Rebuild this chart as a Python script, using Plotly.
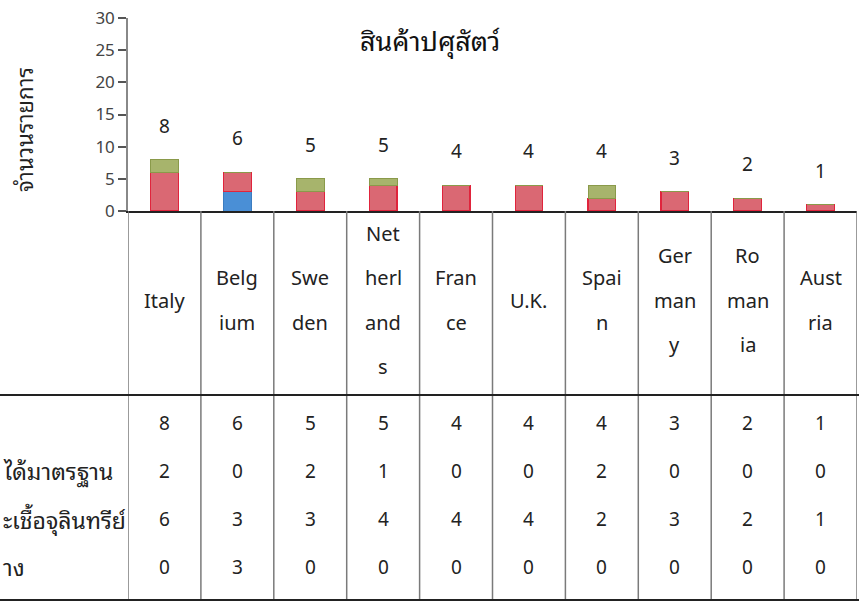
import plotly.graph_objects as go

W, H = 859, 606

categories = ["Italy", "Belgium", "Sweden", "Netherlands", "France", "U.K.",
              "Spain", "Germany", "Romania", "Austria"]
category_lines = [["Italy"], ["Belg", "ium"], ["Swe", "den"], ["Net", "herl", "and", "s"],
                  ["Fran", "ce"], ["U.K."], ["Spai", "n"], ["Ger", "man", "y"],
                  ["Ro", "man", "ia"], ["Aust", "ria"]]
totals = [8, 6, 5, 5, 4, 4, 4, 3, 2, 1]
substandard = [2, 0, 2, 1, 0, 0, 2, 0, 0, 0]      # green (top)
microbes = [6, 3, 3, 4, 4, 4, 2, 3, 2, 1]         # red (middle)
residues = [0, 3, 0, 0, 0, 0, 0, 0, 0, 0]         # blue (bottom)
row_labels = ["ได้มาตรฐาน", "ะเชื้อจุลินทรีย์", "าง"]
title_text = "สินค้าปศุสัตว์"
ytitle_text = "จำนวนรายการ"
y_ticks = [0, 5, 10, 15, 20, 25, 30]

FONT = "Noto Sans, Noto Sans Thai Looped, Loma, Garuda, Sarabun, sans-serif"


def py(p):
    return 1 - p / H


def px(p):
    return p / W


fig = go.Figure()
fig.add_trace(go.Bar(x=categories, y=residues, name="สารตกค้าง",
                     marker=dict(color="#4a8fd6", line=dict(color="#3b7cc0", width=1))))
fig.add_trace(go.Bar(x=categories, y=microbes, name="เชื้อจุลินทรีย์",
                     marker=dict(color="#da6873", line=dict(color="#e0243c", width=1.2))))
fig.add_trace(go.Bar(x=categories, y=substandard, name="ไม่ได้มาตรฐาน",
                     marker=dict(color="#a7b46c", line=dict(color="#8a9a4a", width=1))))

ann = []
ann.append(dict(text=title_text, x=px(430), y=py(40), xref="paper", yref="paper",
                xanchor="center", yanchor="middle",
                showarrow=False, font=dict(size=27, color="#111", family=FONT)))
ann.append(dict(text=ytitle_text, x=px(24), y=py(130), xref="paper", yref="paper",
                xanchor="center", yanchor="middle",
                showarrow=False, textangle=-90, font=dict(size=22, color="#222", family=FONT)))
for c, t in zip(categories, totals):
    ann.append(dict(text=str(t), x=c, y=t, xref="x", yref="y", yshift=34,
                    xanchor="center", yanchor="middle",
                    showarrow=False, font=dict(size=19, color="#222", family=FONT)))
line_gap = 44.5
center = 300
for c, lines in zip(categories, category_lines):
    n = len(lines)
    for i, s in enumerate(lines):
        yy = center + (i - (n - 1) / 2) * line_gap
        ann.append(dict(text=s, x=c, y=py(yy), xref="x", yref="paper",
                        xanchor="center", yanchor="middle",
                        showarrow=False, font=dict(size=20, color="#222", family=FONT)))
rows = [totals, substandard, microbes, residues]
row_y = [423, 471, 519, 567]
for vals, yy in zip(rows, row_y):
    for c, v in zip(categories, vals):
        ann.append(dict(text=str(v), x=c, y=py(yy), xref="x", yref="paper",
                        xanchor="center", yanchor="middle",
                        showarrow=False, font=dict(size=19, color="#222", family=FONT)))
for lab, yy in zip(row_labels, row_y[1:]):
    ann.append(dict(text=lab, x=px(1), y=py(yy), xref="paper", yref="paper",
                    xanchor="left", yanchor="middle", showarrow=False,
                    font=dict(size=23, color="#222", family=FONT)))

shapes = []
for i in range(len(categories) + 1):
    shapes.append(dict(type="line", xref="x", yref="paper", x0=i - 0.5, x1=i - 0.5,
                       y0=py(211), y1=py(600), line=dict(color="#7a7a7a", width=1.5)))
for yy in [395, 600]:
    shapes.append(dict(type="line", xref="paper", yref="paper", x0=0, x1=1,
                       y0=py(yy), y1=py(yy), line=dict(color="#222", width=2)))

fig.update_layout(
    width=W, height=H, margin=dict(l=0, r=0, t=0, b=0, autoexpand=False),
    paper_bgcolor="white", plot_bgcolor="white",
    barmode="stack", bargap=0.62, showlegend=False,
    font=dict(family=FONT),
    xaxis=dict(domain=[px(128), px(857)], range=[-0.5, 9.5], showticklabels=False,
               ticks="", showgrid=False, zeroline=False, showline=True, automargin=False,
               linecolor="#222", linewidth=2),
    yaxis=dict(domain=[py(211), py(18)], range=[0, 30], tickvals=y_ticks,
               ticks="outside", ticklen=8, tickcolor="#555", tickwidth=1.5, automargin=False,
               showgrid=False, zeroline=False, showline=True, linecolor="#888",
               linewidth=1.5, tickfont=dict(size=17, color="#444", family=FONT)),
    annotations=ann, shapes=shapes,
)

fig.write_html("out.html", config={"displayModeBar": False},
               post_script="document.body.style.margin='0';document.body.style.overflow='hidden';")
